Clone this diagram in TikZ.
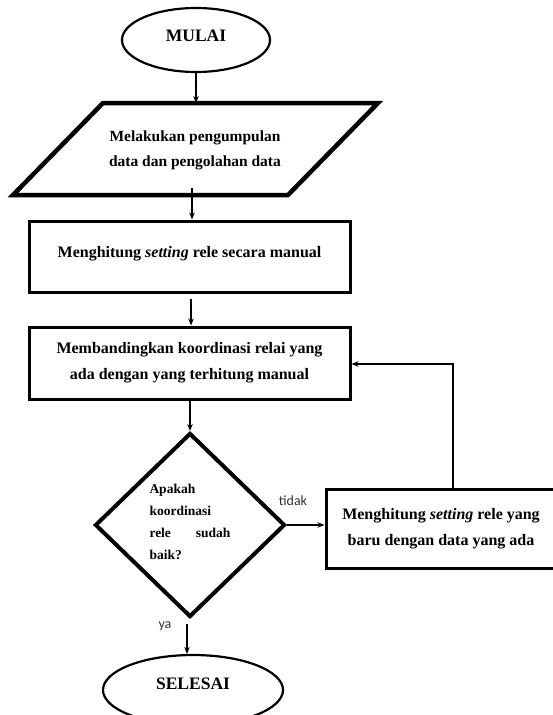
\documentclass[tikz,border=0pt]{standalone}
\usepackage{fontspec}
\setmainfont{Liberation Serif}
\newfontfamily\labelfont{Carlito}
\usetikzlibrary{shapes.geometric,arrows.meta,calc}
\begin{document}
\begin{tikzpicture}[x=1pt,y=-1pt,
  every node/.style={font=\fontsize{16}{26}\selectfont\bfseries},
  term/.style={ellipse,draw,line width=2.2pt,inner sep=0pt,font=\fontsize{17.5}{20}\selectfont\bfseries},
  procbox/.style={rectangle,draw,line width=3pt,inner sep=0pt,align=center},
  decbox/.style={diamond,draw,line width=4pt,inner sep=0pt},
  flow/.style={line width=1.1pt,-{Stealth[length=7pt,width=5.5pt]}},
  lbl/.style={font=\labelfont\fontsize{14}{16}\selectfont,text=black!80}
]
\useasboundingbox (0,0) rectangle (552,715);
\fill[white] (0,0) rectangle (552,715);

% start
\node[term,minimum width=148pt,minimum height=64pt] (mulai) at (196,40) {\raisebox{8pt}{MULAI}};

% data (parallelogram)
\draw[line width=4.5pt,line join=miter] (103,103) coordinate (ptop) -- (378,103) -- (288,195) -- (13,195) -- cycle;
\node[align=center,font=\fontsize{15.5}{25}\selectfont\bfseries] (data) at (195,150) {Melakukan pengumpulan\\data dan pengolahan data};
\coordinate (pbot) at (192,188);

% process 1
\node[procbox,minimum width=321pt,minimum height=71pt] (hitung) at (189.5,256.5)
  {\raisebox{10pt}{Menghitung \textit{setting} rele secara manual}};

% process 2
\node[procbox,minimum width=321pt,minimum height=72pt] (banding) at (189.5,363)
  {\raisebox{6.5pt}{\parbox{300pt}{\centering Membandingkan koordinasi relai yang\\ada dengan yang terhitung manual}}};

% decision
\node[decbox,minimum width=190pt,minimum height=184pt] (cek) at (190,525) {};
\node[font=\fontsize{13.5}{22}\selectfont\bfseries,inner sep=0pt] (cektext) at (190,522)
  {\parbox{81pt}{\raggedright Apakah\\koordinasi\\\makebox[81pt][s]{rele\hfill sudah}\\baik?}};

% process 3
\node[procbox,minimum width=230pt,minimum height=79pt] (baru) at (441,528.5)
  {\raisebox{10pt}{\parbox{225pt}{\centering Menghitung \textit{setting} rele yang\\baru dengan data yang ada}}};

% end
\node[term,minimum width=180pt,minimum height=70pt] (selesai) at (193,690) {\raisebox{12pt}{SELESAI}};

% connectors
\draw[flow] (mulai.south) -- (mulai.south |- ptop);
\draw[flow] (pbot) -- (pbot |- hitung.north);
\draw[flow] ($(hitung.south)+(1.5,5)$) -- ($(banding.north)+(1.5,0)$);
\draw[flow] ($(banding.south)+(0.5,0)$) -- (cek.north);
\draw[flow] (cek.east) -- (cek.east -| baru.west);
\coordinate (fb) at (453,364);
\draw[flow] (fb |- baru.north) -- (fb) -- (fb -| banding.east);
\draw[flow] ($(cek.south)+(-3,5)$) -- (selesai.north -| 187,0);

% labels
\node[lbl] (tidak) at (293,501) {tidak};
\node[lbl] (ya) at (165,626) {ya};
\end{tikzpicture}
\end{document}
